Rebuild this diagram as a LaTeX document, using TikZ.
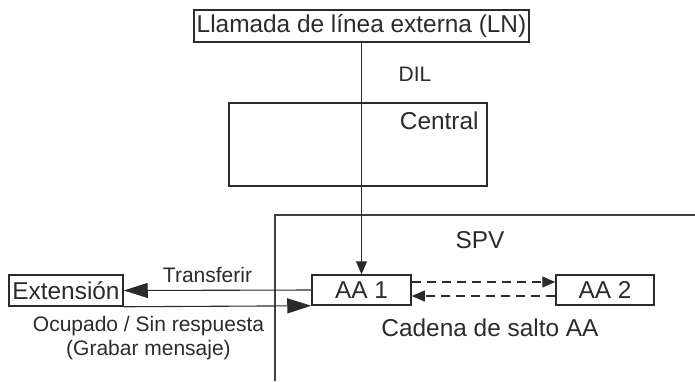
\documentclass[tikz,border=0pt]{standalone}
\usepackage{fontspec}
\setmainfont{Liberation Sans}
\usetikzlibrary{arrows.meta}
\definecolor{ink}{HTML}{2B2B2B}

\begin{document}
\begin{tikzpicture}[x=0.5pt,y=-0.5pt,
    box/.style={draw=ink, line width=0.75pt, inner sep=0pt, text=ink, font=\fontsize{12.2}{14}\selectfont},
    lbl/.style={inner sep=0pt, text=ink, font=\fontsize{10.5}{12}\selectfont},
    biglbl/.style={inner sep=0pt, text=ink, font=\fontsize{12.2}{14}\selectfont},
    wire/.style={draw=ink, line width=0.55pt},
    bigtip/.style={-{Triangle[length=12pt,width=7.5pt]}},
    smalltip/.style={-{Triangle[length=6.5pt,width=5.5pt]}},
    hopline/.style={dash pattern=on 4.5pt off 3pt}]
    \useasboundingbox (0,0) rectangle (695,381);

    % --- Top: incoming call and central ---
    \node[box, minimum width=167.5pt, minimum height=16pt] (ln) at (361.5,26) {Llamada de línea externa (LN)};
    \node[lbl] (dil) at (415,74) {DIL};
    \node[draw=ink, line width=0.75pt, minimum width=129pt, minimum height=41.5pt, inner sep=0pt] (central) at (358,144.5) {};
    \node[biglbl, anchor=east] (centrallbl) at (479,121) {Central};

    % --- SPV area ---
    \coordinate (spvbot) at (275,381);
    \coordinate (spvcorner) at (275,215);
    \coordinate (spvright) at (695,215);
    \draw[draw=ink!90, line width=1.4pt] (spvbot) -- (spvcorner) -- (spvright);
    \node[biglbl] (spv) at (480,240) {SPV};

    % --- Boxes ---
    \node[box, minimum width=49.5pt, minimum height=15pt] (aa1) at (361.5,290) {AA 1};
    \node[box, minimum width=49pt, minimum height=15pt] (aa2) at (605,290) {AA 2};
    \node[box, minimum width=57pt, minimum height=15.5pt] (ext) at (66,290.5) {Extensión};
    \node[biglbl] (cadena) at (490,328) {Cadena de salto AA};

    % --- Connectors ---
    \draw[wire, smalltip] (ln.south) -- (aa1.north);
    \draw[wire, smalltip, hopline] ([yshift=4pt]aa1.east) -- ([yshift=4pt]aa2.west);
    \draw[wire, smalltip, hopline] ([yshift=-3pt]aa2.west) -- ([yshift=-3pt]aa1.east);
    \draw[wire, bigtip] (aa1.west) -- node[lbl, above=3.5pt, xshift=-5pt] (transf) {Transferir} (ext.east);
    \draw[wire, bigtip] (ext.south east) -- (aa1.south west);
    \node[lbl, align=center, font=\fontsize{10.5}{12}\selectfont] (ocup) at (148.5,338) {Ocupado / Sin respuesta\\(Grabar mensaje)};
\end{tikzpicture}
\end{document}
